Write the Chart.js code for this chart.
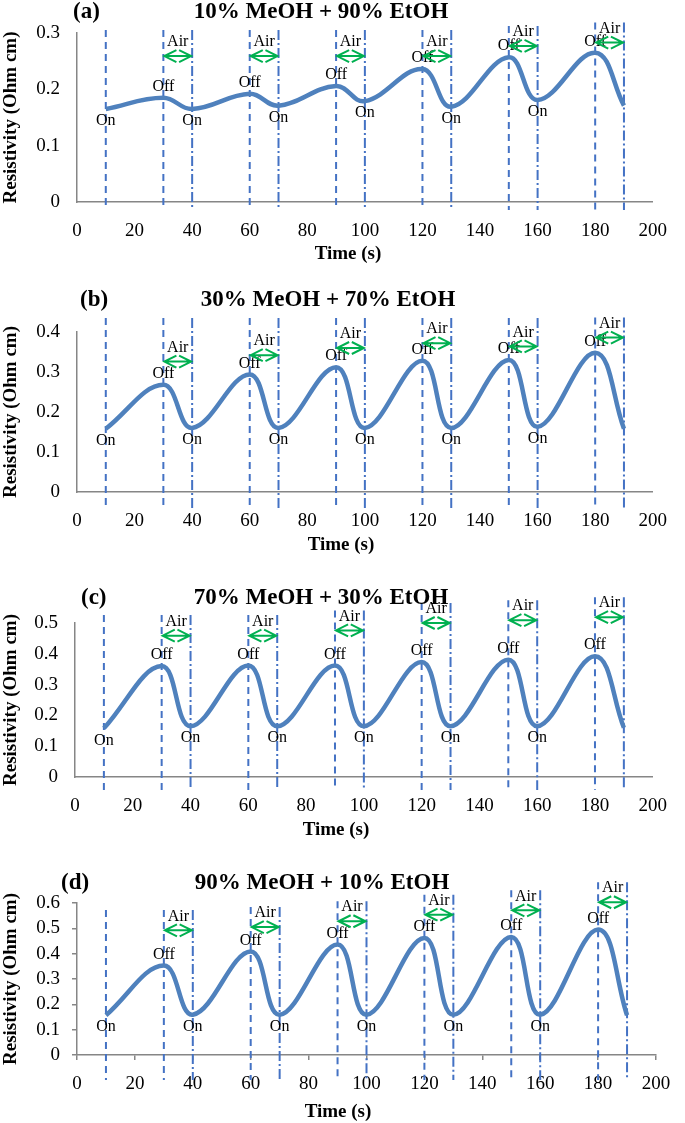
<!DOCTYPE html>
<html>
<head>
<meta charset="utf-8">
<script src="https://cdn.jsdelivr.net/npm/chart.js@4/dist/chart.umd.min.js"></script>
<style>
  html, body { margin: 0; padding: 0; background: #fff; }
  #page { position: relative; width: 685px; height: 1123px; overflow: hidden; }
  #page canvas { position: absolute; left: 0; }
</style>
</head>
<body>
<div id="page"></div>
<script>
// gas switching times (s)
const times = [10, 30, 40, 60, 70, 90, 100, 120, 130, 150, 160, 180, 190];
const dashTimes = [10, 30, 60, 90, 120, 150, 180];      // gas off (dashed)
const dashDotTimes = [40, 70, 100, 130, 160, 190];      // gas on (dash-dot)
const airStart = [30, 60, 90, 120, 150, 180];
const airEnd = [40, 70, 100, 130, 160, 190];

// resistivity (Ohm cm)
const resA = [0.165, 0.185, 0.165, 0.192, 0.171, 0.206, 0.179, 0.236, 0.169, 0.257, 0.181, 0.265, 0.171];
const resB = [0.158, 0.268, 0.160, 0.294, 0.160, 0.312, 0.160, 0.328, 0.160, 0.330, 0.163, 0.348, 0.158];
const resC = [0.158, 0.360, 0.165, 0.362, 0.165, 0.362, 0.165, 0.373, 0.165, 0.381, 0.165, 0.392, 0.160];
const resD = [0.157, 0.353, 0.159, 0.409, 0.159, 0.436, 0.159, 0.462, 0.159, 0.466, 0.159, 0.495, 0.157];

// height of the "Air" arrows
const airA = [0.259, 0.259, 0.259, 0.259, 0.277, 0.283];
const airB = [0.326, 0.342, 0.360, 0.372, 0.364, 0.386];
const airC = [0.459, 0.459, 0.476, 0.500, 0.509, 0.519];
const airD = [0.492, 0.505, 0.528, 0.554, 0.571, 0.603];

const BLUE = '#4F81BD';
const VLINE = '#4472C4';
const GREEN = '#00B050';
const AXIS = '#868686';
const SERIF = '"Liberation Serif", "Times New Roman", serif';

const panels = [
  { tag: '(a)', title: '10% MeOH + 90% EtOH', values: resA, air: airA, yMax: 0.3,
    top: 0, headY: 12, plotTop: 33, plotBottom: 202, timeY: 254,
    left: 77, right: 18, tagX: 73, titleX: 321, timeX: 348, lineAbove: 3, lineBelow: 8, tickMarks: false },
  { tag: '(b)', title: '30% MeOH + 70% EtOH', values: resB, air: airB, yMax: 0.4,
    top: 268, headY: 300, plotTop: 332, plotBottom: 492, timeY: 545,
    left: 77, right: 25, tagX: 80, titleX: 328, timeX: 341, lineAbove: 14, lineBelow: 16, tickMarks: false },
  { tag: '(c)', title: '70% MeOH + 30% EtOH', values: resC, air: airC, yMax: 0.5,
    top: 563, headY: 598, plotTop: 623, plotBottom: 777, timeY: 830,
    left: 75, right: 16, tagX: 81, titleX: 321, timeX: 336, lineAbove: 8, lineBelow: 13, tickMarks: false },
  { tag: '(d)', title: '90% MeOH + 10% EtOH', values: resD, air: airD, yMax: 0.6,
    top: 848, headY: 883, plotTop: 903, plotBottom: 1055, timeY: 1112,
    left: 77, right: 29, tagX: 61, titleX: 322, timeX: 338, lineAbove: -7, lineBelow: 25, tickMarks: true }
];

// open double arrow: shaft with a chevron at each end
function drawAirArrow(ctx, x0, x1, y) {
  const h = (x1 - x0) * 0.45, hh = 6;
  ctx.beginPath();
  ctx.moveTo(x0, y); ctx.lineTo(x1, y);
  ctx.moveTo(x0 + h, y - hh); ctx.lineTo(x0, y); ctx.lineTo(x0 + h, y + hh);
  ctx.moveTo(x1 - h, y - hh); ctx.lineTo(x1, y); ctx.lineTo(x1 - h, y + hh);
  ctx.stroke();
}

const decor = {
  id: 'decor',
  beforeDatasetsDraw(chart) {
    const p = chart.options.plugins.decor;
    const {ctx, chartArea} = chart;
    const x = chart.scales.x, y = chart.scales.y;
    const lineTop = (t) => {
      let i = airStart.indexOf(t);
      if (i < 0) i = airEnd.indexOf(t);
      let top = chartArea.top - p.lineAbove;
      if (i >= 0) top = Math.min(top, y.getPixelForValue(p.air[i]) - 20);
      return top;
    };
    ctx.save();
    ctx.strokeStyle = VLINE;
    ctx.lineWidth = 2;
    const bottom = chartArea.bottom + p.lineBelow;
    dashTimes.forEach(t => {
      const px = x.getPixelForValue(t);
      ctx.setLineDash([7, 5]);
      ctx.beginPath(); ctx.moveTo(px, lineTop(t)); ctx.lineTo(px, bottom); ctx.stroke();
    });
    dashDotTimes.forEach(t => {
      const px = x.getPixelForValue(t);
      ctx.setLineDash([10, 3, 2, 3]);
      ctx.beginPath(); ctx.moveTo(px, lineTop(t)); ctx.lineTo(px, bottom); ctx.stroke();
    });
    ctx.restore();
  },
  afterDatasetsDraw(chart) {
    const p = chart.options.plugins.decor;
    const {ctx} = chart;
    const x = chart.scales.x, y = chart.scales.y;
    ctx.save();
    // On / Off labels
    ctx.fillStyle = '#000';
    ctx.font = '16px ' + SERIF;
    ctx.textAlign = 'center';
    ctx.textBaseline = 'middle';
    p.values.forEach((v, i) => {
      if (i === p.values.length - 1) return;
      const px = x.getPixelForValue(times[i]);
      const py = y.getPixelForValue(v);
      if (i % 2 === 0) ctx.fillText('On', px, py + 12);
      else ctx.fillText('Off', px, py - 11);
    });
    // Air arrows
    ctx.strokeStyle = GREEN;
    ctx.lineWidth = 2;
    p.air.forEach((a, i) => {
      const x0 = x.getPixelForValue(airStart[i]) + 1;
      const x1 = x.getPixelForValue(airEnd[i]) - 1;
      const py = y.getPixelForValue(a);
      drawAirArrow(ctx, x0, x1, py);
      ctx.fillText('Air', (x0 + x1) / 2, py - 14);
    });
    ctx.restore();
  },
  afterDraw(chart) {
    const p = chart.options.plugins.decor;
    const {ctx} = chart;
    ctx.save();
    ctx.fillStyle = '#000';
    ctx.textBaseline = 'middle';
    ctx.font = 'bold 23px ' + SERIF;
    ctx.textAlign = 'left';
    ctx.fillText(p.tag, p.tagX, p.headY);
    ctx.textAlign = 'center';
    ctx.fillText(p.title, p.titleX, p.headY);
    ctx.font = 'bold 19px ' + SERIF;
    ctx.fillText('Time (s)', p.timeX, p.timeY);
    ctx.restore();
  }
};

const page = document.getElementById('page');

panels.forEach(p => {
  const h = p.timeY + 10 - p.top;
  const canvas = document.createElement('canvas');
  canvas.style.top = p.top + 'px';
  canvas.style.width = '685px';
  canvas.style.height = h + 'px';
  canvas.width = 685;
  canvas.height = h;
  page.appendChild(canvas);

  const tickFont = { family: SERIF, size: 19 };
  const titleFont = { family: SERIF, size: 19, weight: 'bold' };
  const tl = p.tickMarks ? 5 : 0;
  const grid = p.tickMarks
    ? { display: true, drawOnChartArea: false, drawTicks: true, tickLength: tl, color: AXIS, lineWidth: 1.5 }
    : { display: false, drawTicks: false };

  new Chart(canvas, {
    type: 'line',
    data: {
      datasets: [{
        data: times.map((t, i) => ({ x: t, y: p.values[i] })),
        borderColor: BLUE,
        borderWidth: 4.5,
        pointRadius: 0,
        tension: 0.4,
        fill: false,
        clip: false
      }]
    },
    options: {
      responsive: false,
      animation: false,
      devicePixelRatio: 1,
      layout: { padding: { top: p.plotTop - p.top, left: 0, right: p.right, bottom: 0 } },
      plugins: {
        legend: { display: false },
        tooltip: { enabled: false },
        decor: {
          tag: p.tag, title: p.title, values: p.values, air: p.air,
          headY: p.headY - p.top, timeY: p.timeY - p.top,
          tagX: p.tagX, titleX: p.titleX, timeX: p.timeX,
          lineAbove: p.lineAbove, lineBelow: p.lineBelow
        }
      },
      scales: {
        x: {
          type: 'linear', min: 0, max: 200,
          grid: grid,
          border: { display: true, color: AXIS, width: 1.5 },
          ticks: { stepSize: 20, padding: 18 - tl, color: '#000', font: tickFont, maxRotation: 0, autoSkip: false },
          title: { display: false },
          afterFit: s => { s.height = h - (p.plotBottom - p.top); }
        },
        y: {
          min: 0, max: p.yMax,
          grid: grid,
          border: { display: true, color: AXIS, width: 1.5 },
          ticks: { stepSize: 0.1, padding: 17 - tl, color: '#000', font: tickFont, autoSkip: false,
                   callback: v => String(+v.toFixed(1)) },
          title: { display: true, text: 'Resistivity (Ohm cm)', color: '#000', font: titleFont, padding: 0 },
          afterFit: s => { s.width = p.left; }
        }
      }
    },
    plugins: [decor]
  });
});
</script>
</body>
</html>
